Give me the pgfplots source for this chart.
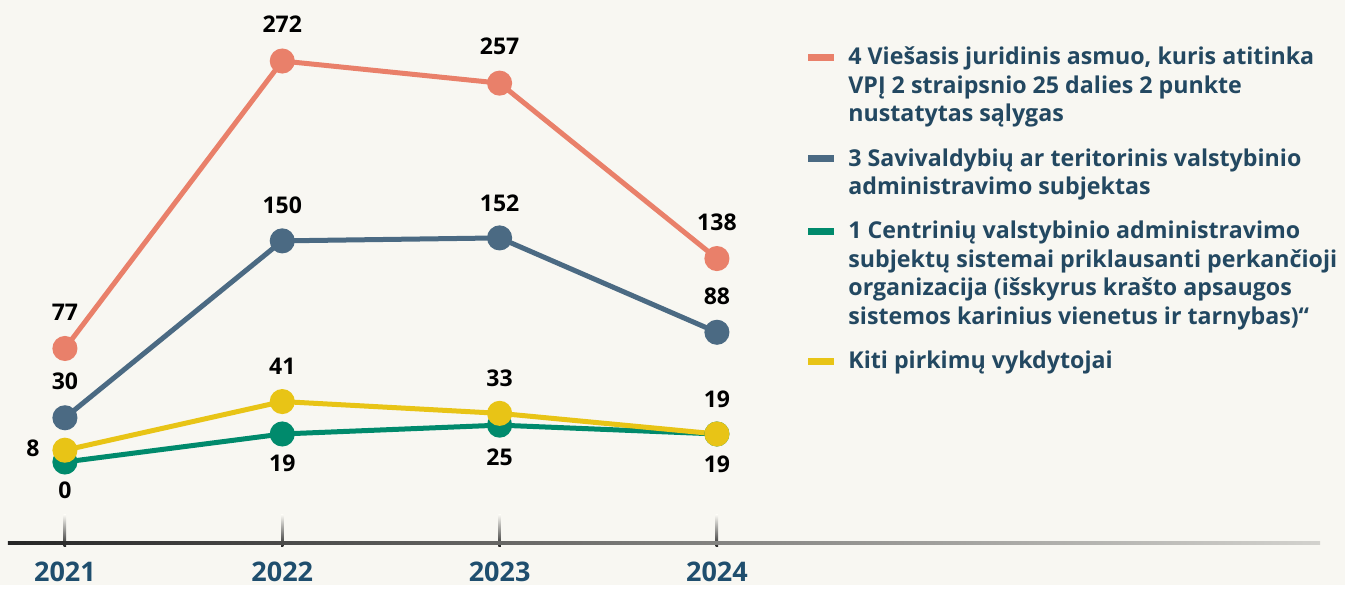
\documentclass[border=0pt]{standalone}
\usepackage{fontspec}
\setmainfont{Open Sans}
\usepackage{pgfplots}
\pgfplotsset{compat=1.18}
\definecolor{bg}{HTML}{F8F7F2}
\definecolor{corange}{HTML}{E9806A}
\definecolor{cblue}{HTML}{4B6A83}
\definecolor{cgreen}{HTML}{008A6C}
\definecolor{cyellow}{HTML}{E8C416}
\definecolor{legtext}{HTML}{234861}
\definecolor{yeartext}{HTML}{1F4E6E}
\tikzset{lbl/.style={font=\bfseries\fontsize{11.5}{13}\selectfont, text=black, anchor=center, inner sep=0pt}}
\begin{document}
\begin{tikzpicture}
\fill[bg] (-4pt,-21pt) rectangle (668.5pt,271.5pt);
\begin{axis}[
  at={(0,0)}, anchor=south west,
  scale only axis, width=656pt, height=271.5pt,
  xmin=2020.738, xmax=2026.775, ymin=-54.94, ymax=313.4,
  hide axis, clip=false,
  every axis plot/.append style={line width=2.5pt, mark=*, mark size=5pt},
]
\addplot[corange, mark options={fill=corange, draw=corange}] coordinates {(2021,77) (2022,272) (2023,257) (2024,138)};
\addplot[cblue, mark options={fill=cblue, draw=cblue}] coordinates {(2021,30) (2022,150) (2023,152) (2024,88)};
\addplot[cgreen, mark options={fill=cgreen, draw=cgreen}] coordinates {(2021,0) (2022,19) (2023,25) (2024,19)};
\addplot[cyellow, mark options={fill=cyellow, draw=cyellow}] coordinates {(2021,8) (2022,41) (2023,33) (2024,19)};

% ticks
\foreach \yr in {2021,2022,2023,2024}{
  \edef\tmp{\noexpand\shade[top color=bg, bottom color=black!85] ([xshift=-0.6pt]axis cs:\yr,-35.9) rectangle ([xshift=0.6pt]axis cs:\yr,-57.5);}
  \tmp
  \edef\tmp{\noexpand\node[font=\noexpand\bfseries\noexpand\fontsize{13.5}{15}\noexpand\selectfont, text=yeartext, anchor=base] at ([yshift=-19.5pt]axis cs:\yr,-54.94) {\yr};}
  \tmp
}

% labels
\node[lbl] at ([yshift=18pt]axis cs:2021,77) {77};
\node[lbl] at ([yshift=18pt]axis cs:2021,30) {30};
\node[lbl] at ([xshift=-16pt,yshift=1pt]axis cs:2021,8) {8};
\node[lbl] at ([yshift=-14pt]axis cs:2021,0) {0};
\node[lbl] at ([yshift=18.25pt]axis cs:2022,272) {272};
\node[lbl] at ([yshift=18pt]axis cs:2022,150) {150};
\node[lbl] at ([yshift=17.5pt]axis cs:2022,41) {41};
\node[lbl] at ([yshift=-14.5pt]axis cs:2022,19) {19};
\node[lbl] at ([yshift=18.25pt]axis cs:2023,257) {257};
\node[lbl] at ([yshift=17.5pt]axis cs:2023,152) {152};
\node[lbl] at ([yshift=17.5pt]axis cs:2023,33) {33};
\node[lbl] at ([yshift=-16pt]axis cs:2023,25) {25};
\node[lbl] at ([yshift=18pt]axis cs:2024,138) {138};
\node[lbl] at ([yshift=18pt]axis cs:2024,88) {88};
\node[lbl] at ([yshift=17.5pt]axis cs:2024,19) {19};
\node[lbl] at ([yshift=-15pt]axis cs:2024,19) {19};
\end{axis}
% baseline
\shade[left color=black!85, middle color=black!70, right color=bg!85!black] (0,-0.75pt) rectangle (656pt,0.75pt);
% legend
\begin{scope}[every node/.style={font=\bfseries\fontsize{11.6}{13}\selectfont, text=legtext, anchor=base west, inner sep=0pt}]
\fill[corange] (400pt,241pt) rectangle (413pt,244.5pt);
\fill[cblue] (400pt,190.25pt) rectangle (413pt,193.75pt);
\fill[cgreen] (400pt,153.75pt) rectangle (413pt,157.25pt);
\fill[cyellow] (400pt,88.75pt) rectangle (413pt,92.25pt);
\node at (420pt,239pt) {4 Viešasis juridinis asmuo, kuris atitinka};
\node at (420pt,224.75pt) {VPĮ 2 straipsnio 25 dalies 2 punkte};
\node at (420pt,210.5pt) {nustatytas sąlygas};
\node at (420pt,188.15pt) {3 Savivaldybių ar teritorinis valstybinio};
\node at (420pt,174pt) {administravimo subjektas};
\node at (420pt,152.35pt) {1 Centrinių valstybinio administravimo};
\node at (420pt,137.85pt) {subjektų sistemai priklausanti perkančioji};
\node at (420pt,123.65pt) {organizacija (išskyrus krašto apsaugos};
\node at (420pt,109pt) {sistemos karinius vienetus ir tarnybas)“};
\node at (420pt,87.35pt) {Kiti pirkimų vykdytojai};
\end{scope}
\end{tikzpicture}
\end{document}
